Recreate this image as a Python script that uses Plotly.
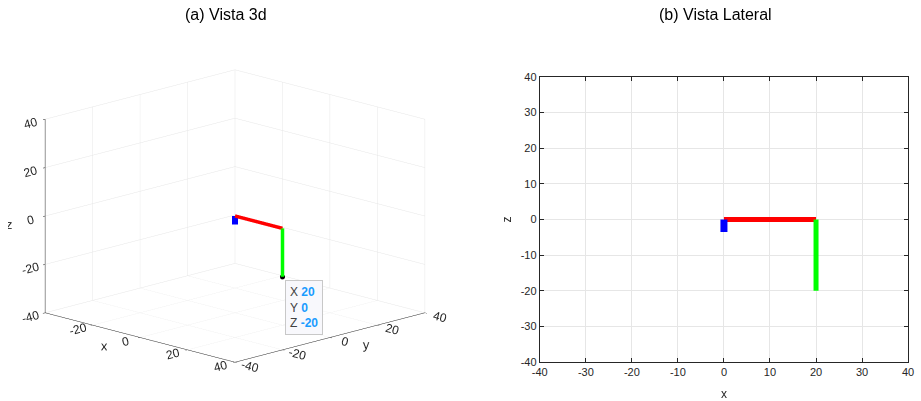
import plotly.graph_objects as go

# ---- data ----
red_x = [0, 20]; red_y = [0, 0]; red_z = [0, 0]
green_x = [20, 20]; green_y = [0, 0]; green_z = [0, -20]
blue_x = [0, 0]; blue_y = [0, 0]; blue_z = [0, -3.5]
tip_point = [20, 0, -20]
ticks3d = [-40, -20, 0, 20, 40]
ticks2d = [-40, -30, -20, -10, 0, 10, 20, 30, 40]
labels3d = [str(v) for v in ticks3d]
labels2d = [str(v) for v in ticks2d]

FONT = "Liberation Sans"
TXT = "#262626"
GRID = "#e6e6e6"
W, H = 921, 401

fig = go.Figure()

# 3D view
fig.add_trace(go.Scatter3d(x=red_x, y=red_y, z=red_z, mode="lines",
                           line=dict(color="#ff0000", width=7), scene="scene", showlegend=False))
fig.add_trace(go.Scatter3d(x=green_x, y=green_y, z=green_z, mode="lines",
                           line=dict(color="#00ff00", width=7), scene="scene", showlegend=False))
fig.add_trace(go.Scatter3d(x=blue_x, y=blue_y, z=blue_z, mode="lines",
                           line=dict(color="#0000ff", width=12), scene="scene", showlegend=False))
fig.add_trace(go.Scatter3d(x=[tip_point[0]], y=[tip_point[1]], z=[tip_point[2]], mode="markers",
                           marker=dict(color="#000000", size=3), scene="scene", showlegend=False))

# 2D lateral view (x-z)
fig.add_trace(go.Scatter(x=red_x, y=red_z, mode="lines", line=dict(color="#ff0000", width=5),
                         xaxis="x", yaxis="y", showlegend=False))
fig.add_trace(go.Scatter(x=green_x, y=green_z, mode="lines", line=dict(color="#00ff00", width=5),
                         xaxis="x", yaxis="y", showlegend=False))
fig.add_trace(go.Scatter(x=blue_x, y=blue_z, mode="lines", line=dict(color="#0000ff", width=7),
                         xaxis="x", yaxis="y", showlegend=False))

ax3 = dict(range=[-40, 40], tickvals=ticks3d, ticktext=labels3d, showgrid=True, gridcolor=GRID,
           gridwidth=1, showbackground=False, zeroline=False, showline=True, linecolor=TXT,
           linewidth=1, ticks="outside", ticklen=3, tickcolor=TXT, showspikes=False,
           tickfont=dict(family=FONT, size=12, color=TXT),
           title_font=dict(family=FONT, size=13, color=TXT))

fig.update_layout(
    width=W, height=H,
    paper_bgcolor="white", plot_bgcolor="white",
    margin=dict(l=0, r=0, t=0, b=0),
    font=dict(family=FONT, color=TXT),
    scene=dict(
        domain=dict(x=[0.0, 0.5], y=[0.0, 0.92]),
        xaxis=dict(ax3, title_text="x"),
        yaxis=dict(ax3, title_text="y"),
        zaxis=dict(ax3, title_text="z"),
        aspectmode="manual", aspectratio=dict(x=1.5, y=1.5, z=1.12),
        camera=dict(eye=dict(x=1.6, y=-1.6, z=0.61), up=dict(x=0, y=0, z=1),
                    center=dict(x=0, y=0, z=0), projection=dict(type="orthographic")),
        bgcolor="white",
        annotations=[dict(x=tip_point[0], y=tip_point[1], z=tip_point[2],
                          text=("X <b><span style='color:#1a9cff'>20</span></b><br>"
                                "Y <b><span style='color:#1a9cff'>0</span></b><br>"
                                "Z <b><span style='color:#1a9cff'>-20</span></b>"),
                          showarrow=False, xanchor="left", yanchor="top", align="left",
                          xshift=3, yshift=-3, bgcolor="#f8f8fc", bordercolor="#c8c8c8",
                          borderwidth=1, borderpad=4,
                          font=dict(family=FONT, size=12, color="#404040"))],
    ),
    xaxis=dict(domain=[540 / W, 914 / W], range=[-40, 40], tickvals=ticks2d, ticktext=labels2d,
               showgrid=True, gridcolor=GRID, zeroline=False, showline=True, mirror="ticks",
               linecolor=TXT, ticks="inside", ticklen=4, tickcolor=TXT,
               tickfont=dict(family=FONT, size=11, color=TXT),
               title=dict(text="x", font=dict(family=FONT, size=12, color=TXT), standoff=14)),
    yaxis=dict(domain=[1 - 367 / H, 1 - 73 / H], range=[-40, 40], tickvals=ticks2d,
               ticktext=labels2d, showgrid=True, gridcolor=GRID, zeroline=False, showline=True,
               mirror="ticks", linecolor=TXT, ticks="inside", ticklen=4, tickcolor=TXT,
               tickfont=dict(family=FONT, size=11, color=TXT),
               title=dict(text="z", font=dict(family=FONT, size=12, color=TXT), standoff=6)),
    annotations=[
        dict(text="(a) Vista 3d", x=221 / W, y=1 - 9 / H, xref="paper", yref="paper",
             showarrow=False, xanchor="center", yanchor="middle",
             font=dict(family=FONT, size=16, color="#000000")),
        dict(text="(b) Vista Lateral", x=718 / W, y=1 - 9 / H, xref="paper", yref="paper",
             showarrow=False, xanchor="center", yanchor="middle",
             font=dict(family=FONT, size=16, color="#000000")),
    ],
)

fig.write_html("out.html", config={"displayModeBar": False},
               post_script="document.body.style.margin='0';document.body.style.overflow='hidden';")
